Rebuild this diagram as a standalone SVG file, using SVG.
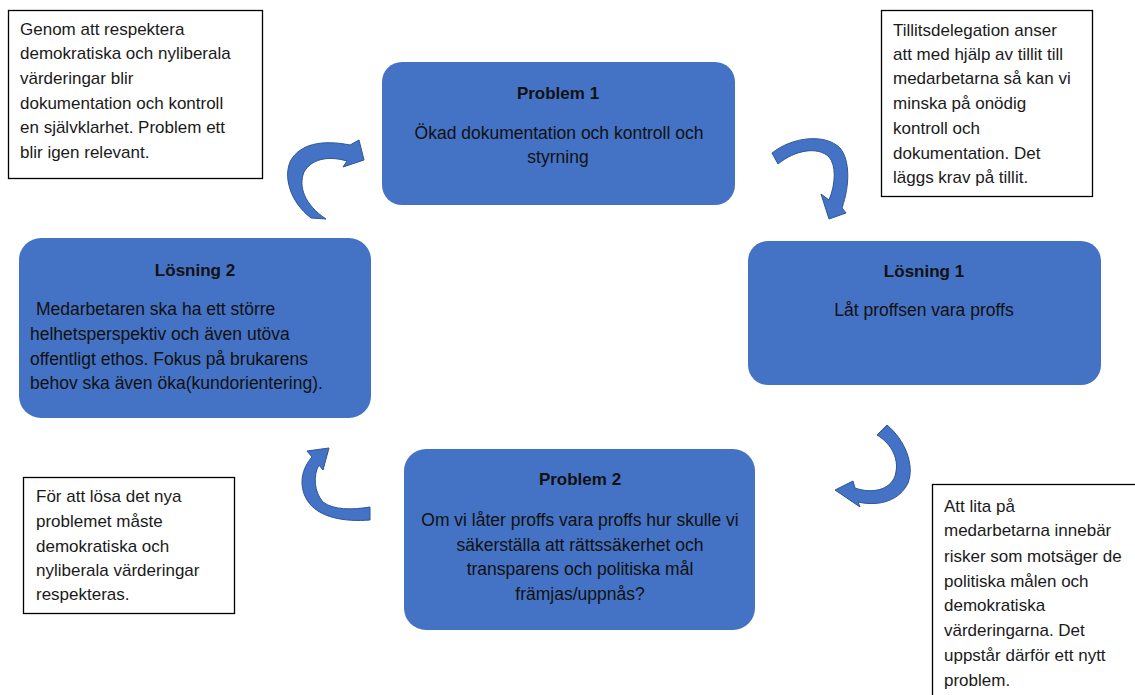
<svg xmlns="http://www.w3.org/2000/svg" width="1135" height="695" viewBox="0 0 1135 695">
<style>
.box{fill:#4472C4;}
.note{fill:#fff;stroke:#000;stroke-width:1.3;}
.t{font-family:"Liberation Sans",Arial,sans-serif;font-size:17.5px;fill:#111;}
.b{font-weight:bold;font-size:17px;}
.c{text-anchor:middle;}
.n{font-family:"Liberation Sans",Arial,sans-serif;font-size:17px;fill:#1a1a1a;}
.arr{fill:#4472C4;stroke:#2F5597;stroke-width:1;stroke-linejoin:miter;}
</style>
<rect width="1135" height="695" fill="#fff"/>

<g id="note-top-left">
<rect class="note" x="8.5" y="10.5" width="254" height="168"/>
<text class="n" x="20" y="35">Genom att respektera</text>
<text class="n" x="20" y="59">demokratiska och nyliberala</text>
<text class="n" x="20" y="84">värderingar blir</text>
<text class="n" x="20" y="109">dokumentation och kontroll</text>
<text class="n" x="20" y="133">en självklarhet. Problem ett</text>
<text class="n" x="20" y="158">blir igen relevant.</text>
</g>

<g id="note-top-right">
<rect class="note" x="881.5" y="10.5" width="211" height="186"/>
<text class="n" x="893" y="36">Tillitsdelegation anser</text>
<text class="n" x="893" y="60">att med hjälp av tillit till</text>
<text class="n" x="893" y="84">medarbetarna så kan vi</text>
<text class="n" x="893" y="109">minska på onödig</text>
<text class="n" x="893" y="134">kontroll och</text>
<text class="n" x="893" y="159">dokumentation. Det</text>
<text class="n" x="893" y="183">läggs krav på tillit.</text>
</g>

<g id="note-bottom-left">
<rect class="note" x="23.5" y="477.5" width="211" height="136"/>
<text class="n" x="36" y="502">För att lösa det nya</text>
<text class="n" x="36" y="527">problemet måste</text>
<text class="n" x="36" y="552">demokratiska och</text>
<text class="n" x="36" y="576">nyliberala värderingar</text>
<text class="n" x="36" y="600">respekteras.</text>
</g>

<g id="note-bottom-right">
<rect class="note" x="932.5" y="484.5" width="215" height="225"/>
<text class="n" x="944" y="512">Att lita på</text>
<text class="n" x="944" y="536">medarbetarna innebär</text>
<text class="n" x="944" y="562">risker som motsäger de</text>
<text class="n" x="944" y="587">politiska målen och</text>
<text class="n" x="944" y="611">demokratiska</text>
<text class="n" x="944" y="636">värderingarna. Det</text>
<text class="n" x="944" y="661">uppstår därför ett nytt</text>
<text class="n" x="944" y="686">problem.</text>
</g>

<g id="problem1">
<rect class="box" x="382" y="62" width="353" height="143" rx="20"/>
<text class="t b c" x="558" y="99">Problem 1</text>
<text class="t c" x="559" y="139">Ökad dokumentation och kontroll och</text>
<text class="t c" x="558" y="163">styrning</text>
</g>

<g id="losning1">
<rect class="box" x="748" y="241" width="353" height="144" rx="20"/>
<text class="t b c" x="924" y="277">Lösning 1</text>
<text class="t c" x="924" y="316">Låt proffsen vara proffs</text>
</g>

<g id="losning2">
<rect class="box" x="19" y="238" width="352" height="180" rx="22"/>
<text class="t b c" x="195" y="276">Lösning 2</text>
<text class="t" x="36" y="315">Medarbetaren ska ha ett större</text>
<text class="t" x="30" y="340">helhetsperspektiv och även utöva</text>
<text class="t" x="30" y="365">offentligt ethos. Fokus på brukarens</text>
<text class="t" x="30" y="389">behov ska även öka(kundorientering).</text>
</g>

<g id="problem2">
<rect class="box" x="404" y="449" width="351" height="181" rx="22"/>
<text class="t b c" x="580" y="485">Problem 2</text>
<text class="t c" x="580" y="526">Om vi låter proffs vara proffs hur skulle vi</text>
<text class="t c" x="580" y="551">säkerställa att rättssäkerhet och</text>
<text class="t c" x="580" y="575">transparens och politiska mål</text>
<text class="t c" x="580" y="600">främjas/uppnås?</text>
</g>

<g id="connectors">
<path class="arr" d="M311,218 C289,201 283,175 291,160 C300,145 320,139 350,145 L359,140 L364,160 L343,167 L347,161 C326,155 311,160 304,172 C298,187 305,205 326,219 Z"/>
<path class="arr" d="M772,153 C792,137 825,133 840,148 C850,160 850,185 842,208 L846,213 L829,219 L821,194 L829,200 C836,183 836,165 829,157 C818,146 795,150 778,164 Z"/>
<path class="arr" d="M887,425 C905,440 915,465 908,483 C900,500 880,507 858,502 L860,507 L835,490 L853,481 L855,488 C872,494 890,490 895,476 C900,460 892,444 877,435 Z"/>
<path class="arr" d="M370,520 C345,522 318,518 307,500 C298,485 302,468 312,457 L307,451 L329,448 L323,470 L319,465 C313,475 314,492 323,502 C333,510 352,510 370,507 Z"/>
</g>
</svg>
